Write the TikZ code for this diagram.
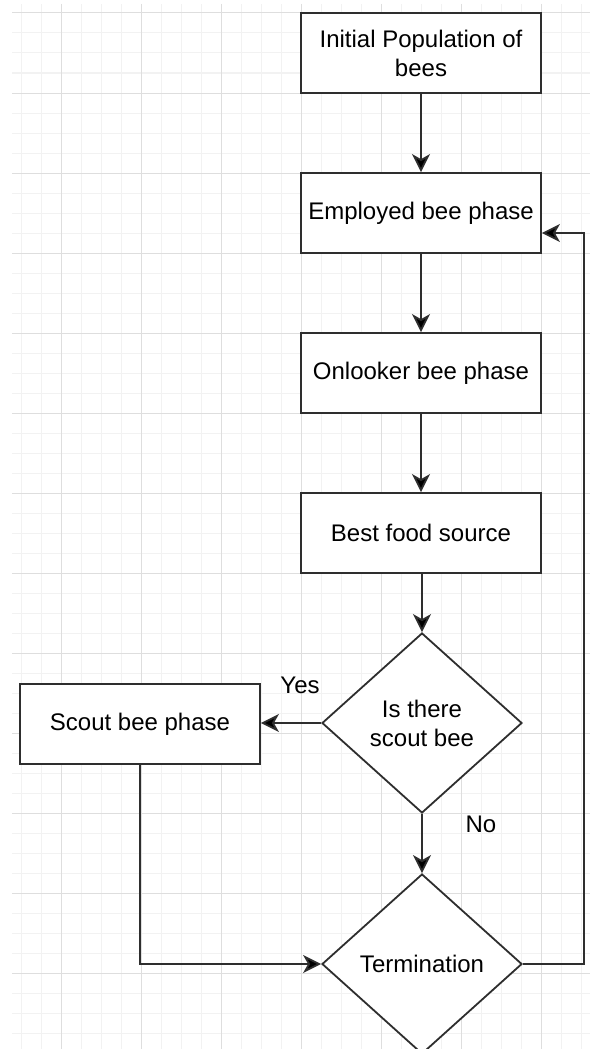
\documentclass[tikz,border=0pt]{standalone}
\usepackage{fontspec}
\setmainfont{Liberation Sans}
\usetikzlibrary{shapes.geometric,arrows.meta}

\definecolor{gridmajor}{HTML}{DEDEDE}
\definecolor{gridminor}{HTML}{F2F2F2}
\definecolor{edge}{HTML}{2E2E2E}

\tikzset{
    phasebox/.style={draw=edge, line width=1.8pt, fill=white, minimum width=240pt,
        minimum height=80pt, inner sep=0pt, align=center},
    decision/.style={draw=edge, line width=1.8pt, fill=white, diamond, aspect=1.111,
        minimum width=200pt, minimum height=180pt, inner sep=0pt, align=center},
    flow/.style={draw=edge, line width=1.8pt,
        -{Stealth[length=18pt, width=18pt, inset=5pt, fill=black]}},
    minor lines/.style={gridminor, line width=1pt},
    major lines/.style={gridmajor, line width=1pt}
}

\begin{document}
\begin{tikzpicture}[x=1pt, y=-1pt, font=\fontsize{24}{29}\selectfont]
    \path[use as bounding box, clip] (0,0) rectangle (590,1049);

    % background grid
    \foreach \x in {21,41,...,581} \draw[minor lines] (\x,4) -- (\x,1049);
    \foreach \y in {33,53,...,1043} \draw[minor lines] (12,\y) -- (590,\y);
    \foreach \x in {61,141,...,541} \draw[major lines] (\x,4) -- (\x,1049);
    \foreach \y in {13,93,...,973} \draw[major lines] (12,\y) -- (590,\y);

    % phases
    \node[phasebox](init) at (421, 53) {Initial Population of\\bees};
    \node[phasebox](employed) at (421, 213) {Employed bee phase};
    \node[phasebox](onlooker) at (421, 373) {Onlooker bee phase};
    \node[phasebox](best) at (421, 533) {Best food source};
    \node[decision](scout_q) at (422, 723) {Is there\\scout bee};
    \node[phasebox](scout) at (140, 724) {Scout bee phase};
    \node[decision](term) at (422, 964) {Termination};

    \node(yes) at (300, 685) {Yes};
    \node(no) at (481, 824) {No};

    % connectors
    \draw[flow] (init) -- (employed);
    \draw[flow] (employed) -- (onlooker);
    \draw[flow] (onlooker) -- (best);
    \draw[flow] (best.south -| scout_q.north) -- (scout_q.north);
    \draw[flow] (scout_q.west) -- (scout.east |- scout_q.west);
    \draw[flow] (scout_q) -- (term);
    \draw[flow] (scout.south) |- (term.west);
    \draw[flow] (term.east) -- ++(61,0) |- ([yshift=-20pt]employed.east);

\end{tikzpicture}
\end{document}
